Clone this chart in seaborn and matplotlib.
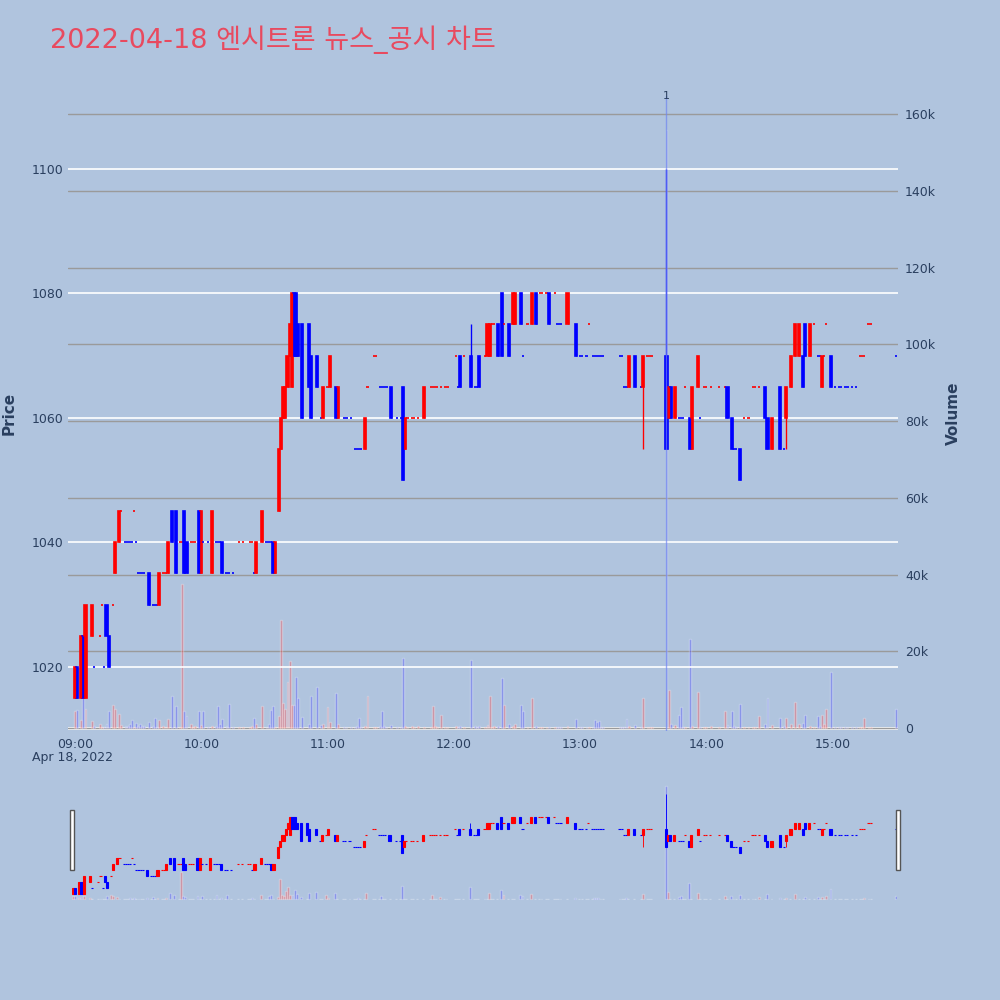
import numpy as np
import pandas as pd
import matplotlib
matplotlib.use("Agg")
import matplotlib.pyplot as plt
import matplotlib.transforms as mtransforms
from matplotlib.patches import Rectangle
import seaborn as sns

# minute after 09:00 and OHLC / volume for each traded minute
minutes = [0, 1, 3, 4, 5, 8, 9, 12, 13, 14, 15, 16, 18, 19, 21, 22,
           24, 25, 26, 27, 28, 29, 30, 31, 32, 33, 35, 37, 38, 39, 40, 42, 43, 44, 46, 48,
           50, 51, 52, 53, 55, 56, 57, 59, 60, 61, 63, 65, 67, 68, 69, 70, 72, 73, 75,
           78, 80, 83, 84, 85, 86, 89, 91, 92, 93, 94, 95,
           97, 98, 99, 100, 101, 102, 103, 104, 105, 106, 108, 111, 112, 115, 117, 118, 120, 121, 124, 125,
           128, 129, 131, 133, 134, 135, 136, 138, 139, 142, 143, 145, 146, 147, 148, 150, 153, 155, 156, 157, 158, 160, 161, 163, 166,
           169, 170, 171, 172, 174, 176, 177, 181, 182, 183, 185, 188, 190, 191, 192, 195, 196, 197, 198, 199, 201, 203, 204, 206, 208, 209,
           212, 213, 215, 217, 219, 221, 222, 224, 225, 228, 229, 230, 231, 234, 238, 240, 241, 243, 244, 246, 247, 248, 249, 250, 251,
           259, 260, 261, 262, 263, 266, 269, 270, 272, 273, 274, 281, 282, 283, 285, 287, 288, 289, 290, 292, 293, 296, 297,
           299, 300, 302, 306, 309, 310, 312, 313, 314, 316, 318, 320, 322, 323, 325, 328, 329, 331, 335, 337, 338,
           340, 342, 344, 346, 347, 349, 351, 353, 354, 355, 356, 357, 359, 361, 363, 364, 366, 367, 369, 371, 373, 374, 375, 377, 378, 390]

opens = [1015, 1020, 1015, 1025, 1015, 1025, 1020, 1025, 1030, 1020, 1030, 1025, 1030, 1035, 1040, 1045,
         1040, 1040, 1040, 1040, 1045, 1040, 1035, 1035, 1035, 1035, 1035, 1030, 1030, 1030, 1030, 1035, 1035, 1035, 1045, 1045,
         1040, 1040, 1045, 1040, 1040, 1040, 1040, 1045, 1035, 1040, 1040, 1035, 1040, 1040, 1040, 1040, 1035, 1035, 1035,
         1040, 1040, 1040, 1040, 1035, 1035, 1040, 1040, 1040, 1040, 1040, 1035,
         1045, 1055, 1060, 1060, 1065, 1070, 1065, 1080, 1080, 1075, 1075, 1075, 1070, 1070, 1060, 1060, 1065, 1065, 1065, 1060,
         1060, 1060, 1060, 1055, 1055, 1055, 1055, 1055, 1065, 1070, 1070, 1065, 1065, 1065, 1065, 1065, 1060, 1060, 1065, 1055, 1060, 1060, 1060, 1060, 1060,
         1065, 1065, 1065, 1065, 1065, 1065, 1065, 1070, 1065, 1070, 1070, 1070, 1065, 1065, 1070, 1070, 1070, 1070, 1075, 1075, 1075, 1080, 1075, 1075, 1075, 1075,
         1080, 1070, 1075, 1075, 1080, 1080, 1080, 1080, 1080, 1080, 1075, 1075, 1075, 1075, 1075, 1070, 1070, 1070, 1075, 1070, 1070, 1070, 1070, 1070, 1070,
         1070, 1070, 1065, 1065, 1065, 1070, 1065, 1065, 1070, 1070, 1070, 1070, 1060, 1065, 1060, 1060, 1060, 1060, 1065, 1060, 1055, 1065, 1060,
         1065, 1065, 1065, 1065, 1065, 1065, 1060, 1055, 1055, 1055, 1060, 1060, 1065, 1065, 1065, 1065, 1060, 1055, 1065, 1055, 1060,
         1065, 1070, 1070, 1070, 1075, 1070, 1075, 1070, 1070, 1065, 1070, 1075, 1070, 1065, 1065, 1065, 1065, 1065, 1065, 1065, 1070, 1070, 1070, 1075, 1075, 1070]

highs = [1020, 1020, 1025, 1025, 1030, 1030, 1020, 1025, 1030, 1020, 1030, 1025, 1030, 1040, 1045, 1045,
         1040, 1040, 1040, 1040, 1045, 1040, 1035, 1035, 1035, 1035, 1035, 1030, 1030, 1030, 1035, 1035, 1035, 1040, 1045, 1045,
         1040, 1040, 1045, 1040, 1040, 1040, 1040, 1045, 1045, 1040, 1040, 1045, 1040, 1040, 1040, 1040, 1035, 1035, 1035,
         1040, 1040, 1040, 1040, 1035, 1040, 1045, 1040, 1040, 1040, 1040, 1040,
         1055, 1060, 1065, 1065, 1070, 1075, 1080, 1080, 1080, 1075, 1075, 1075, 1070, 1070, 1060, 1065, 1065, 1070, 1065, 1065,
         1060, 1060, 1060, 1055, 1055, 1055, 1055, 1060, 1065, 1070, 1070, 1065, 1065, 1065, 1065, 1065, 1060, 1060, 1065, 1060, 1060, 1060, 1060, 1060, 1065,
         1065, 1065, 1065, 1065, 1065, 1065, 1065, 1070, 1065, 1070, 1070, 1075, 1065, 1065, 1070, 1070, 1075, 1075, 1075, 1075, 1075, 1080, 1075, 1075, 1080, 1080,
         1080, 1070, 1075, 1080, 1080, 1080, 1080, 1080, 1080, 1080, 1075, 1075, 1075, 1080, 1075, 1070, 1070, 1070, 1075, 1070, 1070, 1070, 1070, 1070, 1070,
         1070, 1070, 1065, 1065, 1070, 1070, 1065, 1070, 1070, 1070, 1070, 1100, 1065, 1065, 1065, 1060, 1060, 1060, 1065, 1060, 1065, 1070, 1060,
         1065, 1065, 1065, 1065, 1065, 1065, 1060, 1055, 1055, 1055, 1060, 1060, 1065, 1065, 1065, 1065, 1060, 1060, 1065, 1055, 1065,
         1070, 1075, 1075, 1070, 1075, 1075, 1075, 1070, 1070, 1070, 1070, 1075, 1070, 1065, 1065, 1065, 1065, 1065, 1065, 1065, 1070, 1070, 1070, 1075, 1075, 1070]

lows = [1015, 1015, 1015, 1015, 1015, 1025, 1020, 1025, 1030, 1020, 1025, 1020, 1030, 1035, 1040, 1045,
        1040, 1040, 1040, 1040, 1045, 1040, 1035, 1035, 1035, 1035, 1030, 1030, 1030, 1030, 1030, 1035, 1035, 1035, 1040, 1035,
        1040, 1040, 1035, 1035, 1040, 1040, 1040, 1035, 1035, 1040, 1040, 1035, 1040, 1040, 1040, 1035, 1035, 1035, 1035,
        1040, 1040, 1040, 1040, 1035, 1035, 1040, 1040, 1040, 1040, 1035, 1035,
        1045, 1055, 1060, 1060, 1065, 1070, 1065, 1070, 1070, 1070, 1060, 1065, 1060, 1065, 1060, 1060, 1065, 1065, 1060, 1060,
        1060, 1060, 1060, 1055, 1055, 1055, 1055, 1055, 1065, 1070, 1070, 1065, 1065, 1065, 1065, 1060, 1060, 1060, 1050, 1055, 1060, 1060, 1060, 1060, 1060,
        1065, 1065, 1065, 1065, 1065, 1065, 1065, 1070, 1065, 1065, 1070, 1065, 1065, 1065, 1065, 1070, 1070, 1070, 1075, 1075, 1070, 1070, 1075, 1070, 1075, 1075,
        1075, 1070, 1075, 1075, 1075, 1080, 1080, 1080, 1075, 1080, 1075, 1075, 1075, 1075, 1070, 1070, 1070, 1070, 1075, 1070, 1070, 1070, 1070, 1070, 1070,
        1070, 1070, 1065, 1065, 1065, 1065, 1065, 1055, 1070, 1070, 1070, 1055, 1060, 1060, 1060, 1060, 1060, 1060, 1065, 1055, 1055, 1065, 1060,
        1065, 1065, 1065, 1065, 1065, 1060, 1055, 1055, 1055, 1050, 1060, 1060, 1065, 1065, 1065, 1060, 1055, 1055, 1055, 1055, 1055,
        1065, 1070, 1070, 1065, 1070, 1070, 1075, 1070, 1070, 1065, 1070, 1075, 1065, 1065, 1065, 1065, 1065, 1065, 1065, 1065, 1070, 1070, 1070, 1075, 1075, 1070]

closes = [1020, 1015, 1025, 1015, 1030, 1030, 1020, 1025, 1030, 1020, 1025, 1020, 1030, 1040, 1045, 1045,
          1040, 1040, 1040, 1040, 1045, 1040, 1035, 1035, 1035, 1035, 1030, 1030, 1030, 1030, 1035, 1035, 1035, 1040, 1040, 1035,
          1040, 1040, 1035, 1035, 1040, 1040, 1040, 1035, 1045, 1040, 1040, 1045, 1040, 1040, 1040, 1035, 1035, 1035, 1035,
          1040, 1040, 1040, 1040, 1035, 1040, 1045, 1040, 1040, 1040, 1035, 1040,
          1055, 1060, 1065, 1065, 1070, 1075, 1080, 1070, 1070, 1070, 1060, 1065, 1060, 1065, 1060, 1065, 1065, 1070, 1060, 1065,
          1060, 1060, 1060, 1055, 1055, 1055, 1055, 1060, 1065, 1070, 1070, 1065, 1065, 1065, 1065, 1060, 1060, 1060, 1050, 1060, 1060, 1060, 1060, 1060, 1065,
          1065, 1065, 1065, 1065, 1065, 1065, 1065, 1070, 1065, 1065, 1070, 1065, 1065, 1065, 1065, 1070, 1075, 1075, 1075, 1075, 1070, 1070, 1075, 1070, 1080, 1080,
          1075, 1070, 1075, 1080, 1075, 1080, 1080, 1080, 1075, 1080, 1075, 1075, 1075, 1080, 1070, 1070, 1070, 1070, 1075, 1070, 1070, 1070, 1070, 1070, 1070,
          1070, 1070, 1065, 1065, 1070, 1065, 1065, 1070, 1070, 1070, 1070, 1055, 1065, 1060, 1065, 1060, 1060, 1060, 1065, 1055, 1065, 1070, 1060,
          1065, 1065, 1065, 1065, 1065, 1060, 1055, 1055, 1055, 1050, 1060, 1060, 1065, 1065, 1065, 1060, 1055, 1060, 1055, 1055, 1065,
          1070, 1075, 1075, 1065, 1070, 1075, 1075, 1070, 1070, 1070, 1070, 1075, 1065, 1065, 1065, 1065, 1065, 1065, 1065, 1065, 1070, 1070, 1070, 1075, 1075, 1070]

volumes = [4300, 4700, 2000, 7800, 5000, 1700, 500, 1000, 300, 300, 1000, 4300, 6000, 5000, 3700, 800,
           600, 400, 900, 2000, 300, 1300, 600, 1000, 500, 400, 1500, 500, 2700, 300, 2000, 400, 300, 2300, 8200, 5600,
           300, 37500, 4300, 3000, 1000, 300, 500, 4300, 800, 4300, 300, 500, 500, 5600, 900, 2200, 400, 6300, 300,
           300, 200, 300, 400, 2600, 1000, 5700, 300, 1000, 4700, 5700, 300,
           3000, 28200, 6600, 5000, 12000, 17500, 6000, 6000, 13400, 7900, 2900, 1000, 8300, 10700, 800, 1000, 5500, 1500, 9200, 1000,
           300, 200, 300, 300, 500, 2500, 300, 600, 8300, 300, 300, 400, 4300, 500, 300, 800, 300, 200, 18300, 500, 300, 400, 300, 400, 300,
           300, 5700, 400, 300, 3400, 200, 300, 600, 200, 500, 300, 17700, 400, 300, 500, 300, 800, 8200, 300, 500, 500, 13000, 6000, 1000, 600, 1000,
           6000, 4500, 300, 7900, 600, 200, 300, 200, 300, 200, 300, 200, 300, 600, 2300, 300, 200, 300, 300, 300, 2000, 1500, 1700, 300, 200,
           300, 200, 300, 2200, 600, 800, 200, 7800, 300, 200, 200, 156000, 9900, 1000, 800, 3400, 5400, 300, 300, 23200, 500, 9400, 300,
           300, 200, 400, 300, 4300, 800, 4300, 400, 300, 6300, 300, 200, 300, 200, 3200, 1000, 7800, 800, 2500, 400, 2500,
           1000, 6800, 1000, 1200, 3400, 600, 300, 3000, 500, 3400, 1000, 5000, 14600, 300, 200, 300, 200, 300, 200, 300, 200, 300, 2500, 200, 300, 5000]

time_labels = ["09:00", "10:00", "11:00", "12:00", "13:00", "14:00", "15:00"]
price_ticks = [1020, 1040, 1060, 1080, 1100]
volume_ticks = [0, 20000, 40000, 60000, 80000, 100000, 120000, 140000, 160000]
news_minute = 281

title = "2022-04-18 엔시트론 뉴스_공시 차트"

df = pd.DataFrame({"minute": minutes, "open": opens, "high": highs,
                   "low": lows, "close": closes, "volume": volumes})

# plotly-style direction: flat candles follow the previous close
up = []
prev_c, prev_up = None, True
for o, c in zip(df["open"], df["close"]):
    if c > o:
        u = True
    elif c < o:
        u = False
    elif prev_c is not None and c != prev_c:
        u = c > prev_c
    else:
        u = prev_up
    up.append(u)
    prev_c, prev_up = c, u
df["dir"] = np.where(up, "up", "down")

RED, BLUE = "#ff0000", "#0000ff"
PLOT_BG = "#e5ecf6"
PAPER_BG = "#b0c4de"
TEXT = "#2a3f5f"

sns.set_style("white")
plt.rcParams["font.family"] = ["DejaVu Sans", "Noto Sans CJK KR"]

fig = plt.figure(figsize=(10, 10), dpi=100, facecolor=PAPER_BG)


def draw(ax_p, ax_v, body_w, lw, vol_alpha):
    colors = df["dir"].map({"up": RED, "down": BLUE}).tolist()
    sns.barplot(data=df, x="minute", y="volume", hue="dir",
                palette={"up": RED, "down": BLUE}, native_scale=True,
                dodge=False, width=0.9, alpha=vol_alpha, saturation=1,
                errorbar=None, legend=False, ax=ax_v)
    ax_p.vlines(df["minute"], df["low"], df["high"], colors=colors, linewidth=lw * 0.8)
    ax_p.bar(df["minute"], (df["close"] - df["open"]).abs(),
             bottom=np.minimum(df["open"], df["close"]), width=body_w,
             color=colors, edgecolor=colors, linewidth=lw)
    ax_v.set_xlabel("")
    ax_v.set_ylabel("")


# main chart
ax = fig.add_axes([0.068, 0.269, 0.830, 0.635])
ax_vol = ax.twinx()
ax.set_zorder(ax_vol.get_zorder() + 1)
ax.patch.set_visible(False)
ax_vol.set_facecolor(PLOT_BG)

ax_vol.yaxis.grid(True, color="#9a9a9a", linewidth=1)
ax_vol.set_axisbelow(True)
ax.yaxis.grid(True, color="white", linewidth=1.2)
draw(ax, ax_vol, 1.0, 1.2, 0.3)
ax_vol.axhline(0, color="white", linewidth=2, zorder=0.5)

ax.set_xlim(-3.3, 391)
ax.set_ylim(1009.7, 1111.7)
ax_vol.set_ylim(-800, 164800)
ax.set_yticks(price_ticks)
ax.set_yticklabels([str(p) for p in price_ticks])
ax_vol.set_yticks(volume_ticks)
ax_vol.set_yticklabels(["0"] + [f"{v // 1000}k" for v in volume_ticks[1:]])
ax.set_xticks(range(0, 361, 60))
ax.set_xticklabels(time_labels)
for a in (ax, ax_vol):
    for s in a.spines.values():
        s.set_visible(False)
    a.tick_params(length=0, labelsize=9, labelcolor=TEXT)
ax.tick_params(axis="y", pad=3)
ax.tick_params(axis="x", pad=5)
ax_vol.tick_params(axis="y", pad=5)
ax_vol.tick_params(axis="x", labelbottom=False)
ax.grid(False, axis="x")

ax.axvline(news_minute, color="#6f86f0", alpha=0.7, linewidth=1)
trans = mtransforms.blended_transform_factory(ax.transData, ax.transAxes)
ax.text(news_minute, 1.0, "1", transform=trans, ha="center", va="center",
        fontsize=8, color=TEXT)

fig.text(0.073, 1 - 0.757, "Apr 18, 2022", ha="center", va="center",
         fontsize=9, color=TEXT)
fig.text(0.009, 1 - 0.413, "Price", rotation=90, ha="center", va="center",
         fontsize=11, fontweight="bold", color=TEXT)
fig.text(0.953, 1 - 0.413, "Volume", rotation=90, ha="center", va="center",
         fontsize=11, fontweight="bold", color=TEXT)
fig.text(0.05, 1 - 0.040, title, ha="left", va="center",
         fontsize=19.5, color="#e84a5f")

# range slider
ax_s = fig.add_axes([0.072, 0.100, 0.825, 0.120])
ax_sv = ax_s.twinx()
ax_s.set_zorder(ax_sv.get_zorder() + 1)
ax_s.patch.set_visible(False)
ax_sv.set_facecolor(PLOT_BG)
draw(ax_s, ax_sv, 1.0, 0.8, 0.3)
ax_s.set_xlim(-0.5, 390.5)
ax_s.set_ylim(1009.7, 1111.7)
ax_sv.set_ylim(-800, 164800)
for a in (ax_s, ax_sv):
    a.set_xticks([])
    a.set_yticks([])
    for s in a.spines.values():
        s.set_visible(False)

for hx in (0.0695, 0.8955):
    fig.patches.append(Rectangle((hx, 1 - 0.870), 0.0045, 0.060,
                                 transform=fig.transFigure, facecolor="white",
                                 edgecolor="#555555", linewidth=1))

fig.savefig("out.png", dpi=100, facecolor=PAPER_BG)
